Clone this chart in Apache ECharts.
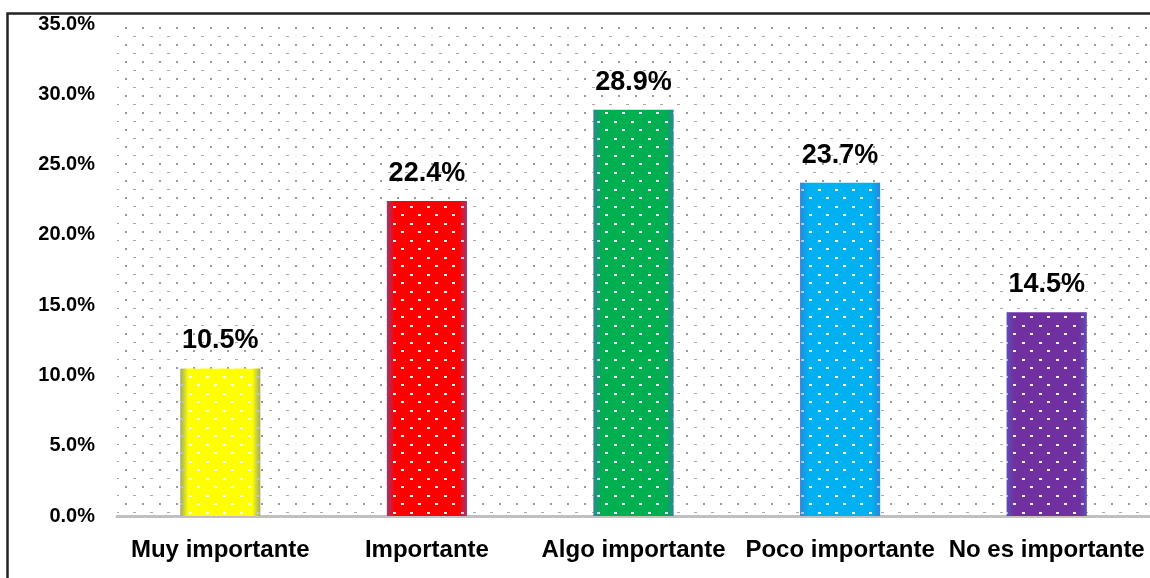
<!DOCTYPE html>
<html><head><meta charset="utf-8">
<script src="https://cdn.jsdelivr.net/npm/echarts@6/dist/echarts.min.js"></script>
<style>html,body{margin:0;padding:0;background:#fff}#c{width:1150px;height:578px}</style>
</head><body><div id="c"></div>
<script>
const categories = ['Muy importante', 'Importante', 'Algo importante', 'Poco importante', 'No es importante'];
const values = [10.5, 22.4, 28.9, 23.7, 14.5];
const barColors = ['#ffff00', '#ff0000', '#00b050', '#00b0f0', '#7030a0'];
const yTicks = { min: 0, max: 35, interval: 5 };

function makePattern(bg, dot, dash) {
  const c = document.createElement('canvas');
  c.width = 17; c.height = 17;
  const g = c.getContext('2d');
  if (bg) { g.fillStyle = bg; g.fillRect(0, 0, 17, 17); }
  g.fillStyle = dot;
  g.fillRect(6, 10, 2, 2);
  g.fillStyle = dash;
  g.fillRect(14, 2, 3, 1);
  return { image: c, repeat: 'repeat' };
}
function makeBarPattern(bg) {
  const c = document.createElement('canvas');
  c.width = 17; c.height = 17;
  const g = c.getContext('2d');
  g.fillStyle = bg; g.fillRect(0, 0, 17, 17);
  g.fillStyle = 'rgba(255,255,255,0.95)';
  g.fillRect(2, 2, 3, 2);
  g.fillRect(10, 10, 3, 2);
  return { image: c, repeat: 'repeat' };
}

const chart = echarts.init(document.getElementById('c'));
const font = '"Liberation Sans", Arial, sans-serif';
chart.setOption({
  animation: false,
  grid: { left: 117, top: 24, width: 1035, height: 492, show: true, borderWidth: 0,
          backgroundColor: makePattern(null, '#9a9a9a', '#a8a8a8') },
  xAxis: {
    type: 'category', data: categories,
    axisLine: { lineStyle: { color: '#c0c0c0', width: 3 } },
    axisTick: { show: false },
    axisLabel: { interval: 0, color: '#000', fontWeight: 'bold', fontSize: 24, fontFamily: font, margin: 22 }
  },
  yAxis: {
    type: 'value', min: yTicks.min, max: yTicks.max, interval: yTicks.interval,
    axisLine: { show: false }, axisTick: { show: false }, splitLine: { show: false },
    axisLabel: { color: '#000', fontWeight: 'bold', fontSize: 20, fontFamily: font, margin: 22,
                 formatter: v => v.toFixed(1) + '%' }
  },
  series: [{
    type: 'bar', barWidth: 80,
    data: values.map((v, i) => ({ value: v, itemStyle: { color: makeBarPattern(barColors[i]) } })),
    label: { show: true, position: 'top', distance: 14, color: '#000', fontWeight: 'bold',
             fontSize: 27, fontFamily: font, formatter: p => p.value.toFixed(1) + '%' }
  }, {
    type: 'bar', barWidth: 80, barGap: '-100%', silent: true,
    data: values,
    itemStyle: { color: { type: 'linear', x: 0, y: 0, x2: 1, y2: 0, colorStops: [
      { offset: 0, color: 'rgba(80,100,200,0.55)' },
      { offset: 0.1, color: 'rgba(80,100,200,0)' },
      { offset: 0.9, color: 'rgba(80,100,200,0)' },
      { offset: 1, color: 'rgba(80,100,200,0.55)' }] } }
  }],
  graphic: [{ type: 'rect', left: 5, top: 11, shape: { x: 0, y: 0, width: 1160, height: 600 },
              style: { fill: 'none', stroke: '#222', lineWidth: 2.5 }, silent: true }]
});
</script></body></html>
